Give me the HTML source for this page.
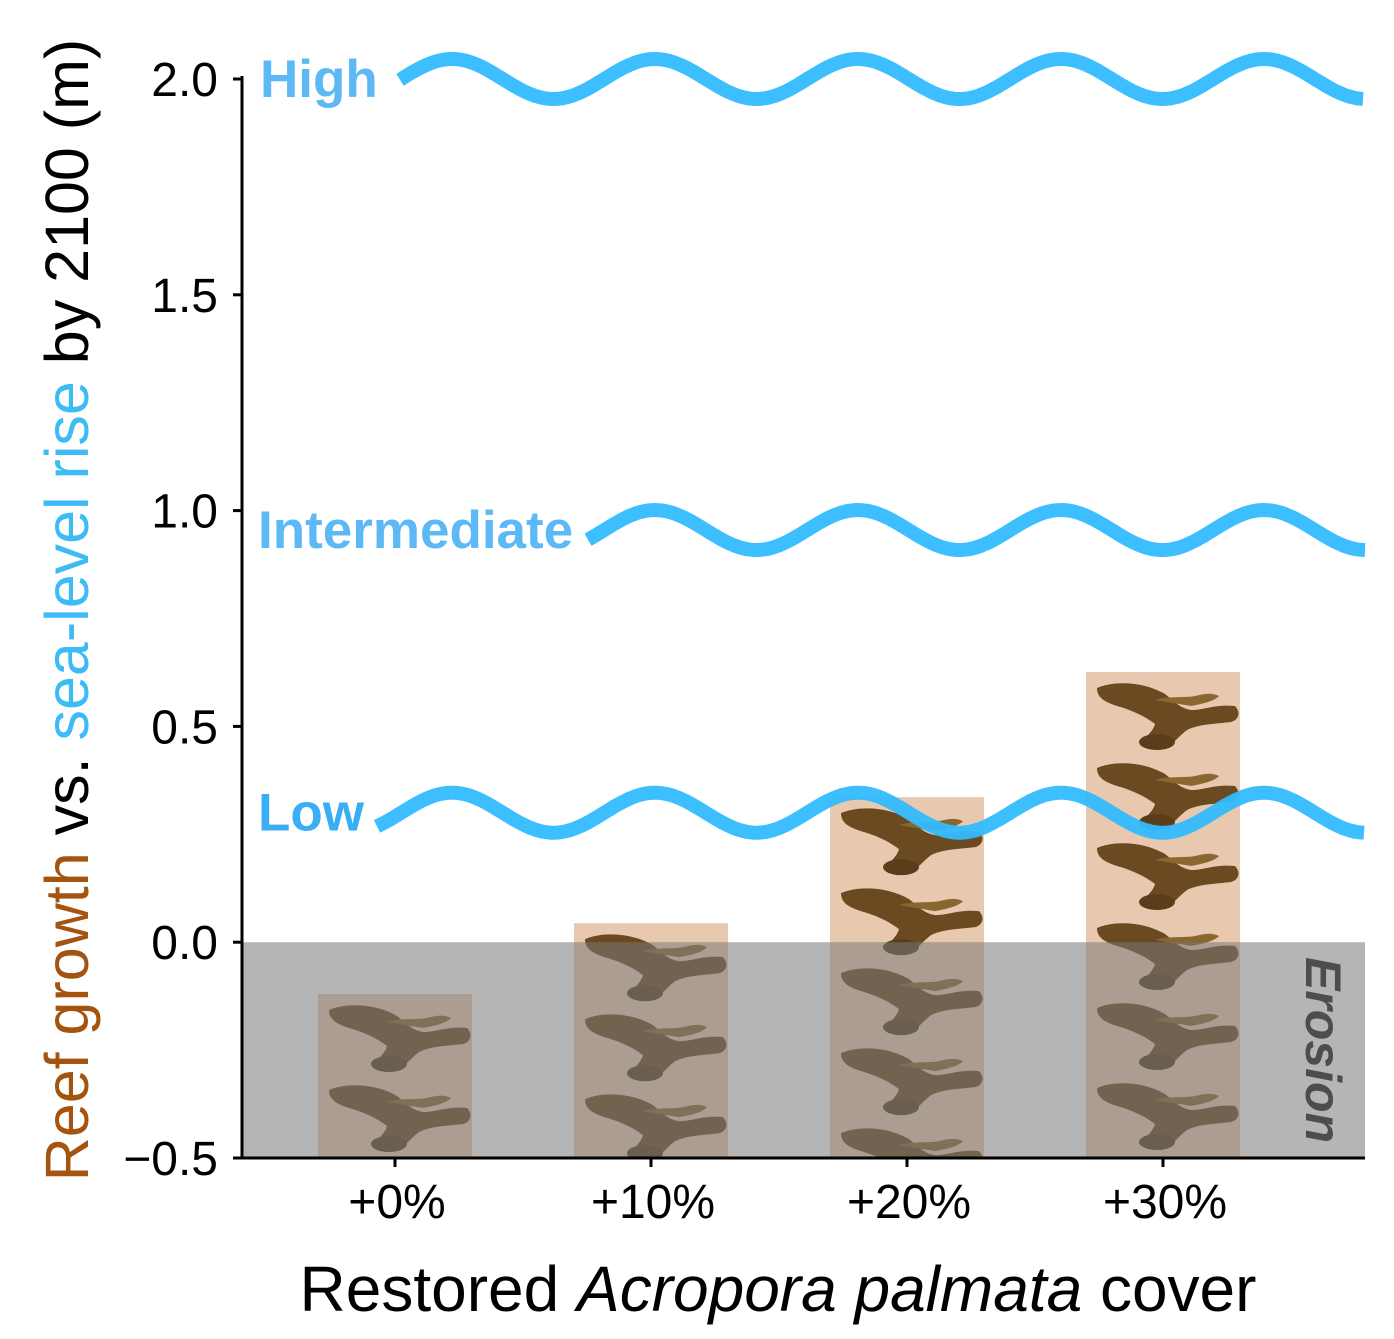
<!DOCTYPE html>
<html><head><meta charset="utf-8"><style>
html,body{margin:0;padding:0;background:#fff;}
svg{display:block;font-family:"Liberation Sans",Arial,sans-serif;}
</style></head><body>
<svg id="chart" width="1394" height="1339" viewBox="0 0 1394 1339" xmlns="http://www.w3.org/2000/svg">
<defs id="defs"></defs>
<g id="bars"></g>
<rect id="erosion" fill="rgba(120,120,120,0.55)"></rect>
<g id="waves"></g>
<g id="axes"></g>
<text transform="translate(1306,1050) rotate(90)" text-anchor="middle" font-size="50" font-weight="bold" font-style="italic" fill="#4d4d4d">Erosion</text>
<text transform="translate(88,610) rotate(-90)" text-anchor="middle" font-size="61"><tspan fill="#a5540f">Reef growth</tspan><tspan fill="#000"> vs. </tspan><tspan fill="#3dbbf5">sea-level rise</tspan><tspan fill="#000"> by 2100 (m)</tspan></text>
<text x="778" y="1311" text-anchor="middle" font-size="64" fill="#000">Restored <tspan font-style="italic">Acropora palmata</tspan> cover</text>
</svg>
<script>
const categories = ['+0%','+10%','+20%','+30%'];
const growth = [-0.12, 0.044, 0.336, 0.626];
const yTicks = [-0.5, 0, 0.5, 1.0, 1.5, 2.0];
const yTickLabels = ['\u22120.5','0.0','0.5','1.0','1.5','2.0'];
const scenarios = ['High','Intermediate','Low'];
const scenarioLevels = [2.0, 0.955, 0.30];

const NS='http://www.w3.org/2000/svg';
const X0=242, X1=1365, Y0=-0.5, Y1=2.0, PY0=1158, PY1=79;
const y = v => PY0 + (v - Y0) * (PY1 - PY0) / (Y1 - Y0);
const bandW = 256, firstC = 395;
const x = i => firstC + i * bandW;
function mk(tag, attrs, parent){const e=document.createElementNS(NS,tag);for(const k in attrs)e.setAttribute(k,attrs[k]);parent.appendChild(e);return e;}

const bars=document.getElementById('bars');
const defs=document.getElementById('defs');
categories.forEach((c,i)=>{
  const top=y(growth[i]), bot=y(-0.5), bw=154;
  const cp=mk('clipPath',{id:'clip'+i},defs);
  mk('rect',{x:x(i)-bw/2,y:top,width:bw,height:bot-top},cp);
  const r=mk('rect',{x:x(i)-bw/2,y:top,width:bw,height:bot-top,fill:'#e8c9b0'},bars);
  
  
  const ig=mk('g',{'clip-path':`url(#clip${i})`},bars);
  for(let cy=top+8; cy<bot-10; cy+=80){
    const g=mk('g',{transform:`translate(${x(i)-68},${cy})`},ig);
    
    
    mk('path',{d:'M2 8 C20 0 50 2 70 14 C78 20 84 28 96 30 C110 30 120 24 140 26 C146 32 144 40 136 42 C120 44 104 44 92 50 C84 56 80 62 74 66 C66 70 52 70 48 64 C50 56 58 52 60 44 C50 36 36 30 22 26 C10 22 2 18 2 8 Z',fill:'#6b4a22'},g);
    mk('path',{d:'M60 20 C70 16 90 18 100 16 C108 14 116 12 124 16 C118 22 106 24 96 26 Z',fill:'#8a6630'},g);
    mk('ellipse',{cx:62,cy:62,rx:18,ry:8,fill:'#5a3e1c'},g);
  }
});
const er=document.getElementById('erosion');
er.setAttribute('x',X0);er.setAttribute('y',y(0));er.setAttribute('width',X1-X0);er.setAttribute('height',y(-0.5)-y(0));

const waves=document.getElementById('waves');
const starts=[400,588,377], labelX=[260,258,258];
scenarios.forEach((s,i)=>{
  const c=y(scenarioLevels[i]);
  let d='';
  for(let px=starts[i]; px<=X1; px+=3){
    const py=c-20*Math.cos(2*Math.PI*(px-452)/203);
    d+=(d?'L':'M')+px.toFixed(1)+' '+py.toFixed(1)+' ';
  }
  const p=mk('path',{d:d,fill:'none',stroke:'#33bbff',opacity:'0.95','stroke-width':14},waves);
  
  
  const t=mk('text',{x:labelX[i],y:c+18,'font-size':53,'font-weight':'bold',fill:i==2?'#3aaef5':'#5cb9f5'},waves);
  t.textContent=s;
  
  
});

const ax=document.getElementById('axes');
mk('line',{x1:X0,y1:PY1-3,x2:X0,y2:PY0+1,stroke:'#000','stroke-width':3},ax);
mk('line',{x1:X0-1,y1:PY0,x2:X1,y2:PY0,stroke:'#000','stroke-width':3},ax);
yTicks.forEach((v,i)=>{
  mk('line',{x1:X0-9,y1:y(v),x2:X0,y2:y(v),stroke:'#000','stroke-width':3},ax);
  const t=mk('text',{x:X0-24,y:y(v)+17,'text-anchor':'end','font-size':48,fill:'#000'},ax);
  t.textContent=yTickLabels[i];
  
  
});
categories.forEach((c,i)=>{
  mk('line',{x1:x(i),y1:PY0,x2:x(i),y2:PY0+9,stroke:'#000','stroke-width':3},ax);
  const t=mk('text',{x:x(i)+2,y:PY0+60,'text-anchor':'middle','font-size':48,fill:'#000'},ax);
  t.textContent=c;
  
  
});
</script>
</body></html>
